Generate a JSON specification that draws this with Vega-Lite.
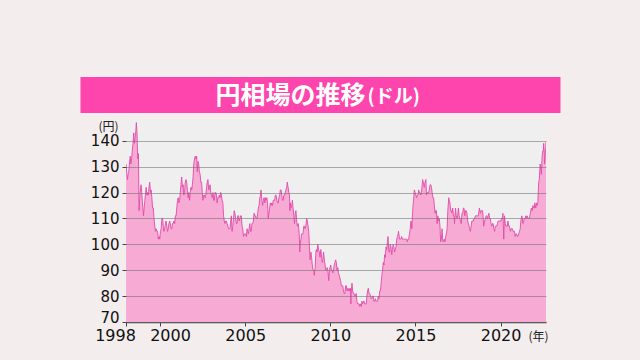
{
"$schema": "https://vega.github.io/schema/vega-lite/v6.json",
"background": "#f3eded",
"padding": {"left": 80, "top": 77, "right": 47, "bottom": 17},
"bounds": "full",
"center": true,
"spacing": 7,
"config": {"view": {"stroke": null}},
"vconcat": [
{
"width": 480, "height": 36,
"view": {"fill": "#fd45ad", "stroke": null},
"data": {"values": [{"t1": "円相場の推移", "t2": "(ドル)"}]},
"layer": [
{"mark": {"type": "text", "align": "right", "baseline": "middle", "dx": 45, "dy": 1, "font": "Noto Sans CJK JP", "fontSize": 25, "fontWeight": "bold", "color": "#ffffff"}, "encoding": {"text": {"field": "t1"}}},
{"mark": {"type": "text", "align": "left", "baseline": "middle", "dx": 47, "dy": 2, "font": "Noto Sans CJK JP", "fontSize": 19, "fontWeight": "bold", "color": "#ffffff"}, "encoding": {"text": {"field": "t2"}}},
{"mark": {"type": "text", "text": "0000", "align": "left", "baseline": "middle", "dx": 240, "font": "DejaVu Sans", "fontSize": 13, "color": "#f3eded", "opacity": 0}}
]
},
{
"width": 420, "height": 202,
"view": {"fill": "#efefef", "stroke": null},
"data": {"values": [
{"d":"1998-01-02","v":131},{"d":"1998-01-15","v":128},{"d":"1998-02-01","v":125},{"d":"1998-02-15","v":127},{"d":"1998-03-01","v":128},{"d":"1998-03-15","v":131},{"d":"1998-04-01","v":134},{"d":"1998-04-15","v":131},{"d":"1998-05-01","v":133},{"d":"1998-05-15","v":136},{"d":"1998-06-01","v":139},{"d":"1998-06-15","v":143},{"d":"1998-07-01","v":139},{"d":"1998-07-15","v":141},{"d":"1998-08-01","v":144},{"d":"1998-08-11","v":147},{"d":"1998-08-25","v":143},{"d":"1998-09-10","v":133},{"d":"1998-09-25","v":135},{"d":"1998-10-08","v":113},{"d":"1998-10-20","v":117},{"d":"1998-11-05","v":121},{"d":"1998-11-20","v":123},{"d":"1998-12-05","v":120},{"d":"1998-12-20","v":116},
{"d":"1999-01-11","v":111},{"d":"1999-01-25","v":114},{"d":"1999-02-10","v":117},{"d":"1999-02-25","v":120},{"d":"1999-03-10","v":122},{"d":"1999-03-25","v":119},{"d":"1999-04-10","v":120},{"d":"1999-04-25","v":119},{"d":"1999-05-10","v":122},{"d":"1999-05-25","v":124},{"d":"1999-06-10","v":120},{"d":"1999-06-25","v":121},{"d":"1999-07-10","v":118},{"d":"1999-07-25","v":114},{"d":"1999-08-10","v":114},{"d":"1999-08-25","v":110},{"d":"1999-09-10","v":107},{"d":"1999-09-25","v":105},{"d":"1999-10-10","v":106},{"d":"1999-10-25","v":105},{"d":"1999-11-10","v":105},{"d":"1999-11-25","v":102},{"d":"1999-12-10","v":103},{"d":"1999-12-25","v":102},
{"d":"2000-01-10","v":105},{"d":"2000-01-25","v":106},{"d":"2000-02-10","v":110},{"d":"2000-02-25","v":110},{"d":"2000-03-10","v":107},{"d":"2000-03-25","v":105},{"d":"2000-04-10","v":106},{"d":"2000-04-25","v":108},{"d":"2000-05-10","v":109},{"d":"2000-05-25","v":107},{"d":"2000-06-10","v":105},{"d":"2000-06-25","v":106},{"d":"2000-07-10","v":108},{"d":"2000-07-25","v":109},{"d":"2000-08-10","v":108},{"d":"2000-08-25","v":106},{"d":"2000-09-10","v":106},{"d":"2000-09-25","v":108},{"d":"2000-10-10","v":108},{"d":"2000-10-25","v":109},{"d":"2000-11-10","v":108},{"d":"2000-11-25","v":111},{"d":"2000-12-10","v":111},{"d":"2000-12-25","v":114},
{"d":"2001-01-10","v":117},{"d":"2001-01-25","v":118},{"d":"2001-02-10","v":116},{"d":"2001-02-25","v":117},{"d":"2001-03-10","v":120},{"d":"2001-03-25","v":123},{"d":"2001-04-10","v":126},{"d":"2001-04-25","v":122},{"d":"2001-05-10","v":123},{"d":"2001-05-25","v":119},{"d":"2001-06-10","v":120},{"d":"2001-06-25","v":124},{"d":"2001-07-10","v":125},{"d":"2001-07-25","v":124},{"d":"2001-08-10","v":121},{"d":"2001-08-25","v":118},{"d":"2001-09-10","v":120},{"d":"2001-09-25","v":117},{"d":"2001-10-10","v":120},{"d":"2001-10-25","v":122},{"d":"2001-11-10","v":121},{"d":"2001-11-25","v":123},{"d":"2001-12-10","v":126},{"d":"2001-12-25","v":131},
{"d":"2002-01-10","v":133},{"d":"2002-01-25","v":134},{"d":"2002-02-10","v":133},{"d":"2002-02-25","v":134},{"d":"2002-03-10","v":128},{"d":"2002-03-25","v":132},{"d":"2002-04-10","v":131},{"d":"2002-04-25","v":128},{"d":"2002-05-10","v":127},{"d":"2002-05-25","v":124},{"d":"2002-06-10","v":124},{"d":"2002-06-25","v":120},{"d":"2002-07-10","v":117},{"d":"2002-07-25","v":119},{"d":"2002-08-10","v":119},{"d":"2002-08-25","v":118},{"d":"2002-09-10","v":119},{"d":"2002-09-25","v":122},{"d":"2002-10-10","v":124},{"d":"2002-10-25","v":125},{"d":"2002-11-10","v":121},{"d":"2002-11-25","v":122},{"d":"2002-12-10","v":123},{"d":"2002-12-25","v":120},
{"d":"2003-01-10","v":119},{"d":"2003-01-25","v":118},{"d":"2003-02-10","v":120},{"d":"2003-02-25","v":117},{"d":"2003-03-10","v":117},{"d":"2003-03-25","v":120},{"d":"2003-04-10","v":120},{"d":"2003-04-25","v":119},{"d":"2003-05-10","v":116},{"d":"2003-05-25","v":118},{"d":"2003-06-10","v":118},{"d":"2003-06-25","v":119},{"d":"2003-07-10","v":118},{"d":"2003-07-25","v":120},{"d":"2003-08-10","v":119},{"d":"2003-08-25","v":117},{"d":"2003-09-10","v":116},{"d":"2003-09-25","v":111},{"d":"2003-10-10","v":109},{"d":"2003-10-25","v":108},{"d":"2003-11-10","v":109},{"d":"2003-11-25","v":109},{"d":"2003-12-10","v":108},{"d":"2003-12-25","v":107},
{"d":"2004-01-10","v":106},{"d":"2004-01-25","v":106},{"d":"2004-02-10","v":106},{"d":"2004-02-25","v":109},{"d":"2004-03-10","v":111},{"d":"2004-03-25","v":105},{"d":"2004-04-10","v":107},{"d":"2004-04-25","v":110},{"d":"2004-05-10","v":113},{"d":"2004-05-25","v":112},{"d":"2004-06-10","v":110},{"d":"2004-06-25","v":108},{"d":"2004-07-10","v":108},{"d":"2004-07-25","v":111},{"d":"2004-08-10","v":111},{"d":"2004-08-25","v":109},{"d":"2004-09-10","v":110},{"d":"2004-09-25","v":111},{"d":"2004-10-10","v":111},{"d":"2004-10-25","v":107},{"d":"2004-11-10","v":106},{"d":"2004-11-25","v":103},{"d":"2004-12-10","v":104},{"d":"2004-12-25","v":104},
{"d":"2005-01-10","v":104},{"d":"2005-01-25","v":103},{"d":"2005-02-10","v":106},{"d":"2005-02-25","v":105},{"d":"2005-03-10","v":104},{"d":"2005-03-25","v":106},{"d":"2005-04-10","v":108},{"d":"2005-04-25","v":105},{"d":"2005-05-10","v":105},{"d":"2005-05-25","v":108},{"d":"2005-06-10","v":108},{"d":"2005-06-25","v":109},{"d":"2005-07-10","v":112},{"d":"2005-07-25","v":111},{"d":"2005-08-10","v":111},{"d":"2005-08-25","v":110},{"d":"2005-09-10","v":110},{"d":"2005-09-25","v":112},{"d":"2005-10-10","v":114},{"d":"2005-10-25","v":115},{"d":"2005-11-10","v":118},{"d":"2005-11-25","v":119},{"d":"2005-12-05","v":121},{"d":"2005-12-25","v":117},
{"d":"2006-01-10","v":115},{"d":"2006-01-25","v":117},{"d":"2006-02-10","v":118},{"d":"2006-02-25","v":116},{"d":"2006-03-10","v":118},{"d":"2006-03-25","v":117},{"d":"2006-04-10","v":118},{"d":"2006-04-25","v":116},{"d":"2006-05-10","v":110},{"d":"2006-05-25","v":112},{"d":"2006-06-10","v":114},{"d":"2006-06-25","v":116},{"d":"2006-07-10","v":115},{"d":"2006-07-25","v":116},{"d":"2006-08-10","v":115},{"d":"2006-08-25","v":117},{"d":"2006-09-10","v":117},{"d":"2006-09-25","v":117},{"d":"2006-10-10","v":119},{"d":"2006-10-25","v":119},{"d":"2006-11-10","v":117},{"d":"2006-11-25","v":116},{"d":"2006-12-10","v":116},{"d":"2006-12-25","v":118},
{"d":"2007-01-10","v":119},{"d":"2007-01-25","v":121},{"d":"2007-02-10","v":121},{"d":"2007-02-25","v":119},{"d":"2007-03-10","v":117},{"d":"2007-03-25","v":117},{"d":"2007-04-10","v":119},{"d":"2007-04-25","v":119},{"d":"2007-05-10","v":120},{"d":"2007-05-25","v":121},{"d":"2007-06-10","v":122},{"d":"2007-06-22","v":124},{"d":"2007-07-10","v":122},{"d":"2007-07-25","v":120},{"d":"2007-08-10","v":119},{"d":"2007-08-17","v":113},{"d":"2007-08-25","v":116},{"d":"2007-09-10","v":114},{"d":"2007-09-25","v":115},{"d":"2007-10-10","v":117},{"d":"2007-10-25","v":114},{"d":"2007-11-10","v":111},{"d":"2007-11-25","v":108},{"d":"2007-12-10","v":112},{"d":"2007-12-25","v":113},
{"d":"2008-01-10","v":109},{"d":"2008-01-25","v":107},{"d":"2008-02-10","v":108},{"d":"2008-02-25","v":106},{"d":"2008-03-10","v":102},{"d":"2008-03-17","v":97},{"d":"2008-03-25","v":100},{"d":"2008-04-10","v":102},{"d":"2008-04-25","v":104},{"d":"2008-05-10","v":104},{"d":"2008-05-25","v":104},{"d":"2008-06-10","v":107},{"d":"2008-06-25","v":107},{"d":"2008-07-10","v":106},{"d":"2008-07-25","v":107},{"d":"2008-08-10","v":110},{"d":"2008-08-25","v":109},{"d":"2008-09-10","v":107},{"d":"2008-09-25","v":105},{"d":"2008-10-10","v":99},{"d":"2008-10-24","v":94},{"d":"2008-11-10","v":97},{"d":"2008-11-25","v":95},{"d":"2008-12-10","v":92},{"d":"2008-12-25","v":90},
{"d":"2009-01-10","v":90},{"d":"2009-01-21","v":88},{"d":"2009-02-10","v":91},{"d":"2009-02-25","v":97},{"d":"2009-03-10","v":98},{"d":"2009-03-25","v":97},{"d":"2009-04-06","v":100},{"d":"2009-04-25","v":98},{"d":"2009-05-10","v":97},{"d":"2009-05-25","v":95},{"d":"2009-06-10","v":98},{"d":"2009-06-25","v":96},{"d":"2009-07-10","v":93},{"d":"2009-07-25","v":94},{"d":"2009-08-10","v":97},{"d":"2009-08-25","v":94},{"d":"2009-09-10","v":92},{"d":"2009-09-25","v":90},{"d":"2009-10-10","v":90},{"d":"2009-10-25","v":91},{"d":"2009-11-10","v":90},{"d":"2009-11-27","v":86},{"d":"2009-12-10","v":89},{"d":"2009-12-25","v":91},
{"d":"2010-01-10","v":92},{"d":"2010-01-25","v":90},{"d":"2010-02-10","v":90},{"d":"2010-02-25","v":89},{"d":"2010-03-10","v":90},{"d":"2010-03-25","v":92},{"d":"2010-04-10","v":93},{"d":"2010-04-25","v":94},{"d":"2010-05-10","v":93},{"d":"2010-05-25","v":90},{"d":"2010-06-10","v":91},{"d":"2010-06-25","v":89},{"d":"2010-07-10","v":88},{"d":"2010-07-25","v":87},{"d":"2010-08-10","v":86},{"d":"2010-08-25","v":84},{"d":"2010-09-10","v":84},{"d":"2010-09-25","v":84},{"d":"2010-10-10","v":82},{"d":"2010-10-25","v":81},{"d":"2010-11-10","v":81},{"d":"2010-11-25","v":84},{"d":"2010-12-10","v":84},{"d":"2010-12-25","v":82},
{"d":"2011-01-10","v":83},{"d":"2011-01-25","v":82},{"d":"2011-02-10","v":83},{"d":"2011-02-25","v":82},{"d":"2011-03-10","v":83},{"d":"2011-03-17","v":77},{"d":"2011-03-25","v":81},{"d":"2011-04-10","v":85},{"d":"2011-04-25","v":82},{"d":"2011-05-10","v":81},{"d":"2011-05-25","v":81},{"d":"2011-06-10","v":80},{"d":"2011-06-25","v":80},{"d":"2011-07-10","v":81},{"d":"2011-07-25","v":78},{"d":"2011-08-10","v":77},{"d":"2011-08-25","v":77},{"d":"2011-09-10","v":77},{"d":"2011-09-25","v":76},{"d":"2011-10-10","v":77},{"d":"2011-10-31","v":76},{"d":"2011-11-10","v":78},{"d":"2011-11-25","v":77},{"d":"2011-12-10","v":78},{"d":"2011-12-25","v":78},
{"d":"2012-01-10","v":77},{"d":"2012-01-25","v":77},{"d":"2012-02-10","v":77},{"d":"2012-02-25","v":80},{"d":"2012-03-10","v":82},{"d":"2012-03-25","v":83},{"d":"2012-04-10","v":81},{"d":"2012-04-25","v":81},{"d":"2012-05-10","v":80},{"d":"2012-05-25","v":79},{"d":"2012-06-10","v":79},{"d":"2012-06-25","v":80},{"d":"2012-07-10","v":80},{"d":"2012-07-25","v":78},{"d":"2012-08-10","v":78},{"d":"2012-08-25","v":79},{"d":"2012-09-10","v":78},{"d":"2012-09-25","v":78},{"d":"2012-10-10","v":78},{"d":"2012-10-25","v":80},{"d":"2012-11-10","v":79},{"d":"2012-11-25","v":82},{"d":"2012-12-10","v":82},{"d":"2012-12-25","v":85},
{"d":"2013-01-10","v":88},{"d":"2013-01-25","v":90},{"d":"2013-02-10","v":93},{"d":"2013-02-25","v":92},{"d":"2013-03-10","v":96},{"d":"2013-03-25","v":95},{"d":"2013-04-10","v":99},{"d":"2013-04-25","v":98},{"d":"2013-05-10","v":101},{"d":"2013-05-22","v":103},{"d":"2013-06-10","v":97},{"d":"2013-06-25","v":97},{"d":"2013-07-10","v":100},{"d":"2013-07-25","v":99},{"d":"2013-08-10","v":96},{"d":"2013-08-25","v":98},{"d":"2013-09-10","v":100},{"d":"2013-09-25","v":99},{"d":"2013-10-10","v":97},{"d":"2013-10-25","v":98},{"d":"2013-11-10","v":99},{"d":"2013-11-25","v":102},{"d":"2013-12-10","v":103},{"d":"2013-12-25","v":104},
{"d":"2014-01-02","v":105},{"d":"2014-01-25","v":102},{"d":"2014-02-10","v":102},{"d":"2014-02-25","v":102},{"d":"2014-03-10","v":103},{"d":"2014-03-25","v":102},{"d":"2014-04-10","v":102},{"d":"2014-04-25","v":102},{"d":"2014-05-10","v":102},{"d":"2014-05-25","v":102},{"d":"2014-06-10","v":102},{"d":"2014-06-25","v":102},{"d":"2014-07-10","v":101},{"d":"2014-07-25","v":102},{"d":"2014-08-10","v":102},{"d":"2014-08-25","v":104},{"d":"2014-09-10","v":106},{"d":"2014-09-25","v":109},{"d":"2014-10-10","v":108},{"d":"2014-10-15","v":106},{"d":"2014-10-31","v":112},{"d":"2014-11-10","v":115},{"d":"2014-11-25","v":118},{"d":"2014-12-08","v":121},{"d":"2014-12-25","v":120},
{"d":"2015-01-10","v":119},{"d":"2015-01-25","v":118},{"d":"2015-02-10","v":119},{"d":"2015-02-25","v":119},{"d":"2015-03-10","v":121},{"d":"2015-03-25","v":120},{"d":"2015-04-10","v":120},{"d":"2015-04-25","v":119},{"d":"2015-05-10","v":120},{"d":"2015-05-25","v":123},{"d":"2015-06-05","v":125},{"d":"2015-06-25","v":123},{"d":"2015-07-10","v":122},{"d":"2015-07-25","v":124},{"d":"2015-08-12","v":125},{"d":"2015-08-25","v":119},{"d":"2015-09-10","v":120},{"d":"2015-09-25","v":120},{"d":"2015-10-10","v":120},{"d":"2015-10-25","v":121},{"d":"2015-11-10","v":123},{"d":"2015-11-25","v":123},{"d":"2015-12-10","v":122},{"d":"2015-12-25","v":120},
{"d":"2016-01-10","v":118},{"d":"2016-01-25","v":118},{"d":"2016-02-10","v":115},{"d":"2016-02-25","v":112},{"d":"2016-03-10","v":113},{"d":"2016-03-25","v":113},{"d":"2016-04-10","v":108},{"d":"2016-04-25","v":111},{"d":"2016-05-10","v":109},{"d":"2016-05-25","v":110},{"d":"2016-06-10","v":107},{"d":"2016-06-24","v":101},{"d":"2016-07-10","v":102},{"d":"2016-07-25","v":106},{"d":"2016-08-10","v":101},{"d":"2016-08-25","v":101},{"d":"2016-09-10","v":102},{"d":"2016-09-25","v":101},{"d":"2016-10-10","v":103},{"d":"2016-10-25","v":104},{"d":"2016-11-10","v":106},{"d":"2016-11-25","v":113},{"d":"2016-12-15","v":118},{"d":"2016-12-25","v":117},
{"d":"2017-01-10","v":116},{"d":"2017-01-25","v":113},{"d":"2017-02-10","v":113},{"d":"2017-02-25","v":112},{"d":"2017-03-10","v":114},{"d":"2017-03-25","v":111},{"d":"2017-04-10","v":111},{"d":"2017-04-17","v":108},{"d":"2017-05-10","v":114},{"d":"2017-05-25","v":111},{"d":"2017-06-10","v":110},{"d":"2017-06-25","v":111},{"d":"2017-07-10","v":114},{"d":"2017-07-25","v":111},{"d":"2017-08-10","v":110},{"d":"2017-08-25","v":109},{"d":"2017-09-08","v":108},{"d":"2017-09-25","v":112},{"d":"2017-10-10","v":112},{"d":"2017-10-25","v":114},{"d":"2017-11-06","v":114},{"d":"2017-11-25","v":111},{"d":"2017-12-10","v":113},{"d":"2017-12-25","v":113},
{"d":"2018-01-10","v":112},{"d":"2018-01-25","v":109},{"d":"2018-02-10","v":108},{"d":"2018-02-25","v":107},{"d":"2018-03-10","v":106},{"d":"2018-03-23","v":105},{"d":"2018-04-10","v":107},{"d":"2018-04-25","v":109},{"d":"2018-05-10","v":109},{"d":"2018-05-25","v":109},{"d":"2018-06-10","v":110},{"d":"2018-06-25","v":110},{"d":"2018-07-10","v":111},{"d":"2018-07-25","v":111},{"d":"2018-08-10","v":111},{"d":"2018-08-25","v":111},{"d":"2018-09-10","v":111},{"d":"2018-09-25","v":113},{"d":"2018-10-04","v":114},{"d":"2018-10-25","v":112},{"d":"2018-11-10","v":113},{"d":"2018-11-25","v":113},{"d":"2018-12-10","v":113},{"d":"2018-12-25","v":110},
{"d":"2019-01-03","v":107},{"d":"2019-01-25","v":109},{"d":"2019-02-10","v":110},{"d":"2019-02-25","v":111},{"d":"2019-03-10","v":111},{"d":"2019-03-25","v":110},{"d":"2019-04-10","v":111},{"d":"2019-04-25","v":112},{"d":"2019-05-10","v":110},{"d":"2019-05-25","v":110},{"d":"2019-06-10","v":108},{"d":"2019-06-25","v":107},{"d":"2019-07-10","v":108},{"d":"2019-07-25","v":108},{"d":"2019-08-10","v":106},{"d":"2019-08-26","v":105},{"d":"2019-09-10","v":107},{"d":"2019-09-25","v":107},{"d":"2019-10-10","v":107},{"d":"2019-10-25","v":108},{"d":"2019-11-10","v":109},{"d":"2019-11-25","v":109},{"d":"2019-12-10","v":109},{"d":"2019-12-25","v":109},
{"d":"2020-01-10","v":109},{"d":"2020-01-17","v":110},{"d":"2020-02-10","v":110},{"d":"2020-02-20","v":112},{"d":"2020-03-09","v":102},{"d":"2020-03-24","v":111},{"d":"2020-04-10","v":108},{"d":"2020-04-25","v":107},{"d":"2020-05-10","v":107},{"d":"2020-05-25","v":107},{"d":"2020-06-05","v":109},{"d":"2020-06-25","v":107},{"d":"2020-07-10","v":107},{"d":"2020-07-31","v":105},{"d":"2020-08-10","v":106},{"d":"2020-08-25","v":106},{"d":"2020-09-10","v":106},{"d":"2020-09-25","v":105},{"d":"2020-10-10","v":105},{"d":"2020-10-25","v":105},{"d":"2020-11-06","v":103},{"d":"2020-11-25","v":104},{"d":"2020-12-10","v":104},{"d":"2020-12-25","v":103},
{"d":"2021-01-06","v":103},{"d":"2021-01-25","v":104},{"d":"2021-02-10","v":105},{"d":"2021-02-25","v":106},{"d":"2021-03-10","v":109},{"d":"2021-03-31","v":111},{"d":"2021-04-10","v":110},{"d":"2021-04-25","v":108},{"d":"2021-05-10","v":109},{"d":"2021-05-25","v":110},{"d":"2021-06-10","v":110},{"d":"2021-06-25","v":111},{"d":"2021-07-10","v":110},{"d":"2021-07-25","v":111},{"d":"2021-08-10","v":110},{"d":"2021-08-25","v":110},{"d":"2021-09-10","v":110},{"d":"2021-09-30","v":112},{"d":"2021-10-20","v":114},{"d":"2021-11-10","v":113},{"d":"2021-11-24","v":115},{"d":"2021-12-10","v":114},{"d":"2021-12-25","v":114},
{"d":"2022-01-04","v":116},{"d":"2022-01-25","v":114},{"d":"2022-02-10","v":116},{"d":"2022-02-25","v":115},{"d":"2022-03-10","v":116},{"d":"2022-03-28","v":124},{"d":"2022-04-10","v":125},{"d":"2022-04-28","v":131},{"d":"2022-05-10","v":130},{"d":"2022-05-25","v":127},{"d":"2022-06-10","v":134},{"d":"2022-06-22","v":136},{"d":"2022-07-05","v":136},{"d":"2022-07-14","v":139},{"d":"2022-07-25","v":136},{"d":"2022-08-02","v":131},{"d":"2022-08-10","v":133},{"d":"2022-08-17","v":135},{"d":"2022-08-25","v":137},{"d":"2022-09-01","v":139.5}
]},
"mark": {"type": "area", "color": "#f7aad4", "opacity": 1, "clip": true, "line": {"color": "#e34aa9", "strokeWidth": 0.9}},
"encoding": {
"x": {"field": "d", "type": "temporal",
 "scale": {"type": "utc", "domain": [{"year": 1998, "month": 1, "date": 1, "utc": true}, {"year": 2022, "month": 9, "date": 1, "utc": true}]},
 "axis": {"values": [{"year": 1998, "month": 1, "date": 1, "utc": true}, {"year": 2000, "month": 1, "date": 1, "utc": true}, {"year": 2005, "month": 1, "date": 1, "utc": true}, {"year": 2010, "month": 1, "date": 1, "utc": true}, {"year": 2015, "month": 1, "date": 1, "utc": true}, {"year": 2020, "month": 1, "date": 1, "utc": true}],
  "format": "%Y", "labelFont": "DejaVu Sans", "labelFontSize": 16, "labelColor": "#111111", "labelPadding": 1, "labelFlush": false, "labelOverlap": false,
  "labelOffset": {"condition": [{"test": "utcyear(datum.value) == 1998", "value": -11}, {"test": "utcyear(datum.value) == 2000", "value": 10}], "value": 0},
  "tickSize": 4, "tickColor": "#444444", "domainColor": "#444444", "domainWidth": 1.5, "grid": false,
  "title": "(年)", "titleFont": "Noto Sans CJK JP", "titleFontSize": 12, "titleFontWeight": "normal", "titleColor": "#222222",
  "titleAnchor": "end", "titleAlign": "right", "titleBaseline": "top", "titleX": 422, "titleY": 9
 }},
"y": {"field": "v", "type": "quantitative",
 "scale": {"domain": [70, 148], "zero": false, "nice": false},
 "axis": {"values": [70, 80, 90, 100, 110, 120, 130, 140], "labelFont": "DejaVu Sans", "labelFontSize": 15, "labelColor": "#111111", "labelPadding": 3,
  "labelOffset": {"condition": {"test": "datum.value == 70", "value": -5}, "value": 0},
  "tickSize": 4, "tickColor": "#444444", "domain": false,
  "grid": true, "gridColor": "#6e6e6e", "gridOpacity": 0.55, "gridWidth": 1, "zindex": 1,
  "title": "(円)", "titleAngle": 0, "titleX": -8, "titleY": 1, "titleAlign": "right", "titleBaseline": "top",
  "titleFont": "Noto Sans CJK JP", "titleFontSize": 12, "titleFontWeight": "normal", "titleColor": "#222222"
 }}
}
}
]
}
